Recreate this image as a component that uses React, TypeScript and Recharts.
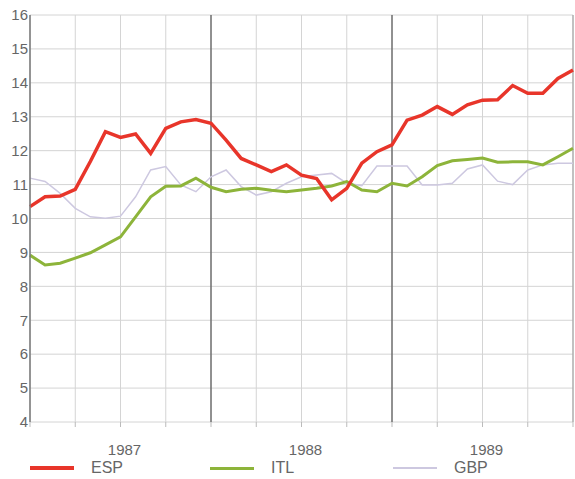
import React from 'react';
import { LineChart, Line, XAxis, YAxis, CartesianGrid, ReferenceLine, Legend } from 'recharts';

// monthly values, Jan 1987 .. Jan 1990
const esp = [10.35, 10.64, 10.66, 10.86, 11.68, 12.56, 12.39, 12.49, 11.92, 12.66, 12.85, 12.92, 12.81, 12.31, 11.77, 11.58, 11.38, 11.58, 11.28, 11.18, 10.55, 10.89, 11.63, 11.97, 12.17, 12.9, 13.05, 13.3, 13.07, 13.35, 13.49, 13.5, 13.92, 13.69, 13.69, 14.13, 14.38];
const itl = [8.92, 8.63, 8.68, 8.83, 8.99, 9.22, 9.46, 10.05, 10.64, 10.95, 10.96, 11.19, 10.92, 10.79, 10.86, 10.89, 10.83, 10.79, 10.84, 10.89, 10.96, 11.09, 10.84, 10.79, 11.04, 10.96, 11.23, 11.56, 11.7, 11.74, 11.78, 11.66, 11.67, 11.67, 11.58, 11.82, 12.07];
const gbp = [11.19, 11.09, 10.74, 10.3, 10.05, 10.01, 10.07, 10.64, 11.43, 11.53, 10.99, 10.79, 11.23, 11.43, 10.94, 10.69, 10.79, 11.04, 11.23, 11.28, 11.33, 11.04, 10.97, 11.55, 11.55, 11.55, 10.99, 10.99, 11.04, 11.46, 11.58, 11.1, 11.0, 11.43, 11.58, 11.63, 11.63];

const years = ['1987', '1988', '1989'];
const yTicks = [4, 5, 6, 7, 8, 9, 10, 11, 12, 13, 14, 15, 16];
const quarterTicks = [0, 3, 6, 9, 12, 15, 18, 21, 24, 27, 30, 33, 36];

const series = [
  { key: 'ESP', values: esp, color: '#e8352a', width: 3.5 },
  { key: 'ITL', values: itl, color: '#8db43a', width: 3 },
  { key: 'GBP', values: gbp, color: '#cdc8e0', width: 1.5 },
];

const data = esp.map((_, i) => ({ i, ESP: esp[i], ITL: itl[i], GBP: gbp[i] }));

const FONT = '"Liberation Sans", Arial, sans-serif';
const TEXT = '#666';

function YearTick(props: any) {
  const { x, y, payload } = props;
  const v = payload.value;
  if ((v - 6) % 12 !== 0) return null;
  const label = years[(v - 6) / 12];
  return (
    <text x={x + 4} y={y + 26} textAnchor="middle" fill={TEXT} fontSize={15} fontFamily={FONT}>
      {label}
    </text>
  );
}

function LegendRow() {
  const lefts = [30, 210, 393];
  return (
    <div style={{ position: 'relative', height: 30, width: 575 }}>
      {series.map((s, k) => (
        <div key={s.key} style={{ position: 'absolute', left: lefts[k], top: 7, display: 'flex', alignItems: 'center', height: 24 }}>
          <div style={{ width: 44, height: s.width, background: s.color }} />
          <span style={{ marginLeft: 17, fontSize: 16, color: TEXT, fontFamily: FONT }}>{s.key}</span>
        </div>
      ))}
    </div>
  );
}

export default function App() {
  return (
    <div style={{ position: 'absolute', left: 0, top: 0, width: 575, height: 479, background: '#fff' }}>
      <LineChart width={575} height={479} data={data} margin={{ top: 15, right: 2, left: 0, bottom: 0 }}>
        <CartesianGrid stroke="#d4d4d4" strokeWidth={1} />
        <XAxis
          dataKey="i"
          type="number"
          domain={[0, 36]}
          ticks={quarterTicks}
          interval={0}
          axisLine={false}
          tickLine={{ stroke: '#bbb' }}
          tickSize={5}
          height={27}
          tick={<YearTick />}
        />
        <YAxis
          domain={[4, 16]}
          ticks={yTicks}
          interval={0}
          width={30}
          axisLine={{ stroke: '#777', strokeWidth: 1.5 }}
          tickLine={false}
          tickSize={0}
          tickMargin={2}
          tick={{ fill: TEXT, fontSize: 15, fontFamily: FONT }}
        />
        <ReferenceLine x={12} stroke="#555" strokeWidth={1.2} />
        <ReferenceLine x={24} stroke="#555" strokeWidth={1.2} />
        <ReferenceLine x={36} stroke="#999" strokeWidth={1} />
        {series.slice().reverse().map((s) => (
          <Line
            key={s.key}
            dataKey={s.key}
            type="linear"
            stroke={s.color}
            strokeWidth={s.width}
            dot={false}
            isAnimationActive={false}
          />
        ))}
        <Legend verticalAlign="bottom" height={30} content={() => <LegendRow />} />
      </LineChart>
    </div>
  );
}
